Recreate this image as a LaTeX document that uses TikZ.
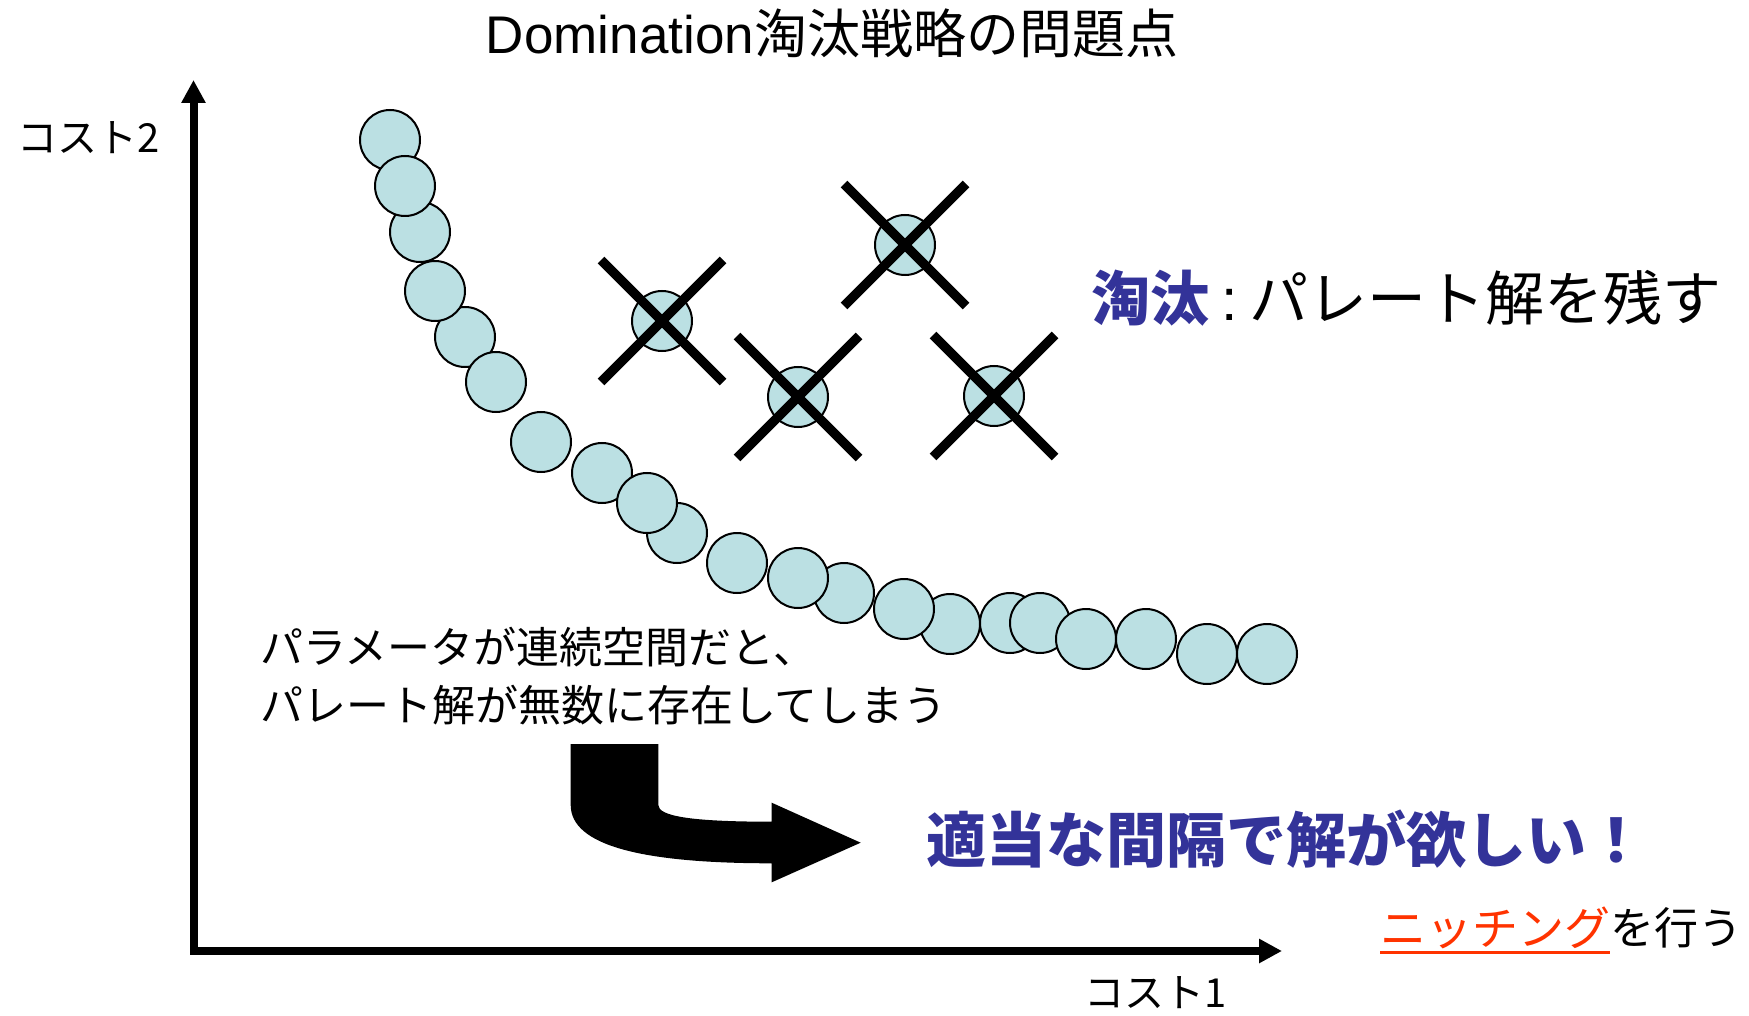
\documentclass[tikz,border=0pt]{standalone}
\usepackage{fontspec}
\setmainfont{Noto Sans CJK JP}
\newfontfamily\latinfont{Liberation Sans}
\usetikzlibrary{arrows.meta}
\definecolor{dotfill}{HTML}{BBE0E3}
\definecolor{headblue}{HTML}{333399}
\definecolor{nichered}{HTML}{FF3300}

\begin{document}
\begin{tikzpicture}[x=1pt, y=-1pt, >={Triangle[width=23pt,length=23pt]},
		dot/.style={circle, draw, line width=2pt, fill=dotfill, minimum size=60pt, inner sep=0pt},
		cross/.style={line width=9.5pt},
		axis/.style={line width=8pt, line join=miter},
		txt/.style={inner sep=0pt}]
		\useasboundingbox (0,0) rectangle (1749,1016);
		% axes
		\coordinate (O) at (193.5,951);
		\coordinate (ytop) at (193.5,80);
		\coordinate (xend) at (1282,951);
		\draw[axis, <->] (ytop) -- (O) -- (xend);
		\node[txt, font=\fontsize{40}{40}\selectfont] (c2) at (89,138) {コスト2};
		\node[txt, font=\fontsize{40}{40}\selectfont] (c1) at (1156,993) {コスト1};
		% title
		\node[txt, font=\fontsize{53}{53}\selectfont] (title) at (832,33) {{\latinfont Domination}淘汰戦略の問題点};
		% pareto front
		\foreach \n/\x/\y in {1/390/140, 3/420/232, 2/405/186, 5/465/337, 4/435/291, 6/496/382,
			7/541/442, 8/602/473, 10/677/533, 9/647/503, 11/737/563, 13/844/593, 12/798/578,
			15/950/624, 14/904/609, 16/1010/623, 17/1040/623, 18/1086/639, 19/1146/639,
			20/1207/654, 21/1267/654}
			\node[dot] (p\n) at (\x,\y) {};
		% dominated solutions
		\foreach \n/\x/\y in {1/662/321, 2/798/397, 3/905/245, 4/994/396} {
			\node[dot] (k\n) at (\x,\y) {};
			\draw[cross] (k\n.center) +(-61,-61) -- +(61,61)
				(k\n.center) +(-61,61) -- +(61,-61);
		}
		\node[txt, anchor=west, font=\fontsize{59}{59}\selectfont] (sel) at (1091,298)
			{{\bfseries\color{headblue}淘汰}\hspace{0.2em}{\latinfont :}\hspace{0.2em}パレート解を残す};
		% continuous parameters
		\node[txt, anchor=west, align=left, font=\fontsize{43}{58}\selectfont] (cont) at (260,676)
			{パラメータが連続空間だと、\\パレート解が無数に存在してしまう};
		% bent arrow
		\fill (570.7,744) -- (658.3,744) -- (658.3,805)
			.. controls (658.3,816) and (690,821.7) .. (771.7,821.7)
			-- (771.7,802.7) -- (860.7,842.7) -- (771.7,882.3) -- (771.7,863.3)
			.. controls (640,863.3) and (570.7,845) .. (570.7,805) -- cycle;
		\node[txt, anchor=west, font=\fontsize{60}{60}\selectfont\bfseries, text=headblue] (want) at (926,839)
			{適当な間隔で解が欲しい！};
		% niching
		\node[txt, anchor=west, font=\fontsize{46}{46}\selectfont, text=nichered] (niche) at (1380,928) {ニッチング};
		\node[txt, anchor=west, font=\fontsize{44}{44}\selectfont] (nrest) at (niche.east) {を行う};
		\draw[nichered, line width=2.5pt] ([yshift=-3pt]niche.south west) -- ([yshift=-3pt]niche.south east);
	\end{tikzpicture}
\end{document}
